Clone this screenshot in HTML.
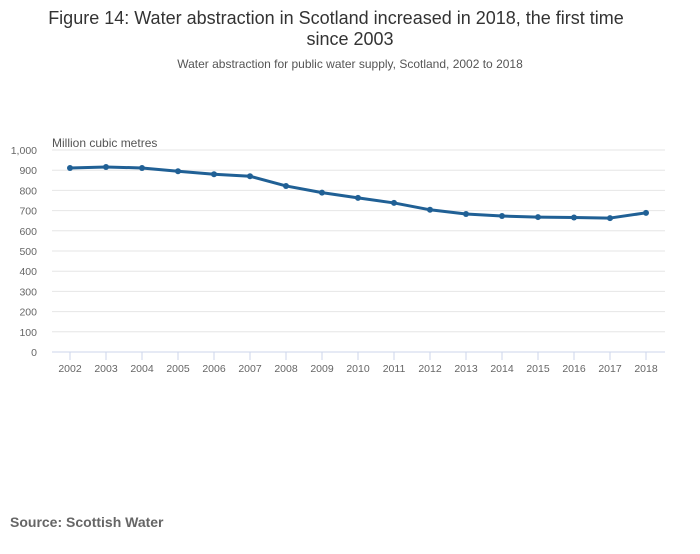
<!DOCTYPE html>
<html><head><meta charset="utf-8"><style>
body{margin:0;background:#fff;font-family:"Liberation Sans",sans-serif;}
</style></head><body>
<svg width="700" height="549" xmlns="http://www.w3.org/2000/svg">
<text x="336" y="24" text-anchor="middle" font-size="18" fill="#333">Figure 14: Water abstraction in Scotland increased in 2018, the first time</text>
<text x="350" y="45" text-anchor="middle" font-size="18" fill="#333">since 2003</text>
<text x="350" y="68" text-anchor="middle" font-size="12" fill="#555">Water abstraction for public water supply, Scotland, 2002 to 2018</text>
<text x="52" y="147" font-size="12" fill="#555">Million cubic metres</text>
<g id="grid"></g><g id="xaxis"></g><g id="series"></g>
<text x="10" y="527" font-size="14" font-weight="bold" fill="#666">Source: Scottish Water</text>
</svg>
<script>
const years=['2002','2003','2004','2005','2006','2007','2008','2009','2010','2011','2012','2013','2014','2015','2016','2017','2018'];
const values=[911,916,911,895,880,870,822,789,763,738,704,683,673,668,666,663,689];
const yTicks=[0,100,200,300,400,500,600,700,800,900,1000];
const yTickLabels=['0','100','200','300','400','500','600','700','800','900','1,000'];
const NS='http://www.w3.org/2000/svg';
const L=52,R=665,T=150,B=352;
const y=v=>B-(v/1000)*(B-T);
const x=i=>70+i*(646-70)/(years.length-1);
function mk(tag,a,p){const e=document.createElementNS(NS,tag);for(const k in a)e.setAttribute(k,a[k]);p.appendChild(e);return e;}
const g=document.getElementById('grid');
yTicks.forEach((t,i)=>{
 const ln=mk('line',{x1:L,x2:R,y1:y(t),y2:y(t),stroke:t===0?'#ccd6eb':'#e6e6e6','stroke-width':1},g);
 
 
 const tx=mk('text',{x:37,y:y(t)+4,'text-anchor':'end','font-size':10.5,fill:'#666'},g);
 tx.textContent=yTickLabels[i];
 
 
});
const xa=document.getElementById('xaxis');
years.forEach((yr,i)=>{
 const tk=mk('line',{x1:x(i),x2:x(i),y1:B,y2:B+8,stroke:'#ccd6eb'},xa);
 
 
 const tx=mk('text',{x:x(i),y:372,'text-anchor':'middle','font-size':10.5,fill:'#666'},xa);
 tx.textContent=yr;
 
 
});
const s=document.getElementById('series');
const path=mk('path',{d:values.map((v,i)=>(i?'L':'M')+x(i)+','+y(v)).join(' '),fill:'none',stroke:'#206095','stroke-width':3,'stroke-linejoin':'round'},s);


values.forEach((v,i)=>{
 const c=mk('circle',{cx:x(i),cy:y(v),r:3,fill:'#206095'},s);
 
 
});
</script>
</body></html>
